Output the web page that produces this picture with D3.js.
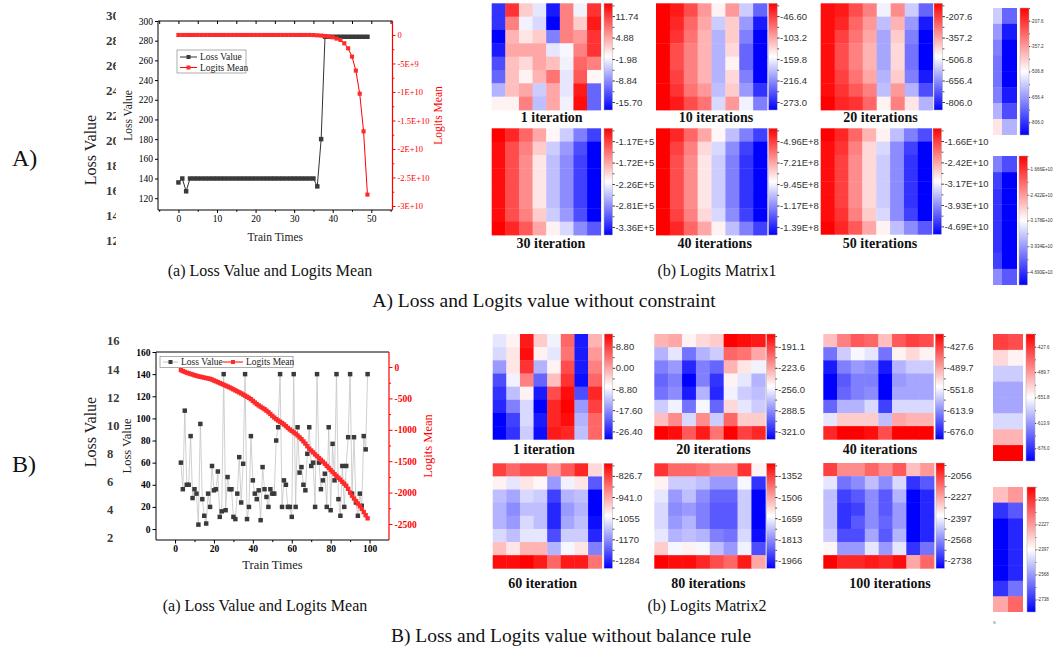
<!DOCTYPE html>
<html>
<head>
<meta charset="utf-8">
<script src="https://cdn.jsdelivr.net/npm/d3@7/dist/d3.min.js"></script>
<style>
  body { margin: 0; background: #fff; }
  svg { display: block; }
</style>
</head>
<body>
<svg id="fig" width="1056" height="655"></svg>
<script>
// ---------- A) without constraint : loss / logits mean per train step (step = index)
const lossA = [136, 140, 127,
  140, 140, 140, 140, 140, 140, 140, 140, 140, 140,
  140, 140, 140, 140, 140, 140, 140, 140, 140, 140,
  140, 140, 140, 140, 140, 140, 140, 140, 140, 140,
  140, 140, 140,
  132, 180,
  284, 284, 284, 284, 284, 284, 284, 284, 284, 284, 284, 284]
const logitsA = [0, 0, 0, 0, 0, 0, 0, 0, 0, 0,
  0, 0, 0, 0, 0, 0, 0, 0, 0, 0,
  0, 0, 0, 0, 0, 0, 0, 0, 0, 0,
  0, 0, 0, 0, 0,
  -2e7, -6e7, -1.1e8, -1.8e8, -2.9e8, -4.1e8, -6.4e8, -8.8e8, -1.46e9, -2.34e9,
  -3.8e9, -6.25e9, -1.03e10, -1.69e10, -2.8e10]
const trainTicksA = [0, 10, 20, 30, 40, 50]
const trainMinorA = [-5, 5, 15, 25, 35, 45, 55]
const lossTicksA = [120, 140, 160, 180, 200, 220, 240, 260, 280, 300]
const logitTicksA = [0, -5e9, -1e10, -1.5e10, -2e10, -2.5e10, -3e10]
const logitLabelsA = ["0", "-5E+9", "-1E+10", "-1.5E+10", "-2E+10", "-2.5E+10", "-3E+10"]
const logitMinorA = [-2.5e9, -7.5e9, -1.25e10, -1.75e10, -2.25e10, -2.75e10]
const ghostTicksA = [30, 28, 26, 24, 22, 20, 18, 16, 14, 12]

// ---------- B) without balance rule : first step is 3
const firstStepB = 3
const lossB = [60, 36, 107, 40, 40, 84, 28, 36, 32, 4,
  95, 27, 12, 5, 32, 20, 57, 35, 36, 52,
  11, 16, 140, 17, 47, 36, 36, 11, 9, 32,
  65, 24, 59, 140, 9, 20, 84, 44, 32, 27,
  35, 8, 56, 36, 29, 20, 36, 32, 32, 80,
  92, 140, 20, 44, 40, 20, 20, 11, 140, 20,
  92, 51, 56, 40, 35, 68, 92, 57, 60, 20,
  140, 60, 36, 44, 50, 20, 92, 17, 77, 44,
  140, 27, 12, 57, 20, 57, 83, 140, 32, 83,
  24, 12, 32, 21, 84, 72, 140]
const logitsB = [-50, -65, -78, -90, -100, -110, -120, -130, -140, -148,
  -155, -162, -170, -176, -182, -190, -200, -215, -228, -242,
  -255, -268, -282, -296, -310, -325, -340, -356, -372, -388,
  -404, -420, -438, -456, -474, -492, -512, -540, -565, -590,
  -612, -632, -652, -672, -695, -720, -748, -778, -805, -830,
  -852, -872, -892, -915, -942, -970, -995, -1018, -1040, -1062,
  -1090, -1120, -1150, -1185, -1220, -1262, -1300, -1330, -1360, -1392,
  -1420, -1450, -1478, -1508, -1540, -1575, -1605, -1640, -1672, -1705,
  -1735, -1765, -1795, -1828, -1858, -1890, -1940, -2000, -2050, -2095,
  -2135, -2175, -2215, -2260, -2310, -2360, -2410]
const trainTicksB = [0, 20, 40, 60, 80, 100]
const trainMinorB = [10, 30, 50, 70, 90]
const lossTicksB = [0, 20, 40, 60, 80, 100, 120, 140, 160]
const logitTicksB = [0, -500, -1000, -1500, -2000, -2500]
const logitMinorB = [-250, -750, -1250, -1750, -2250]
const ghostTicksB = [16, 14, 12, 10, 8, 6, 4, 2]

// ---------- logits matrices, read as colour level (-10 full blue .. 0 white .. 10 full red)
const matA1 = [
  [-8, 8, 2, -1, -9, 5, -0.5, 8],
  [-8, 5, -0.5, -1.5, -10, 5, 2, 9],
  [-10, 3, 1, 2, -5, 5, 4, 8],
  [-9, 3.5, 3.5, 3.5, -1, -0.3, 5, 8],
  [-7, 2.5, 1.5, 3.5, 2.5, -0.5, 6, 5],
  [-6, 2.5, 0.5, 3, 5.5, -1, 6.5, 0.3],
  [-3, 2.5, 3.5, -2, 3.5, -1, 9, -6],
  [0.5, 0.5, 5, -2.5, 3.5, -0.5, 9.5, -6]]
const matA10 = [
  [10, 9, 7, 4, 0.5, 4, -2, -6],
  [10, 8.5, 6, 3.5, -2, 2, -4, -9],
  [10, 8, 5.5, 3, -3, 2, -5, -10],
  [10, 7, 5, 3, -3, 1.5, -6, -10],
  [10, 7, 5, 3, -3, 0.5, -6, -10],
  [10, 7.5, 5, 3, -3, 1.5, -5, -10],
  [10, 8, 5.5, 4, -2.5, 2, -4, -8],
  [10, 9, 7, 5.5, -1.5, 4, -0.5, -5]]
const matA20 = [
  [9.5, 9, 7, 5, -0.5, 4.5, -2, -6],
  [9.5, 8.5, 6, 4, -2.5, 3, -4, -9],
  [9.5, 7.5, 5.5, 3.5, -3.5, 2, -5, -10],
  [9.5, 7, 5, 3, -3.5, 1.5, -5.5, -10],
  [9.5, 7, 5, 3, -3.5, 1.5, -5.5, -10],
  [9.5, 7.5, 5.5, 3.5, -3, 2, -5, -9],
  [9.5, 8, 6.5, 5, -2.5, 4, -3, -7],
  [10, 8.5, 8, 6, 0.5, 5, 1, -3]]
const matA30 = [
  [10, 8.5, 6, 3.5, 0.3, -2, -5, -7.5],
  [9.5, 7, 5, 2, -2, -4, -7, -10],
  [9.5, 7, 4.5, 1, -2.5, -4.5, -7.5, -10],
  [9.5, 7, 4.5, 1, -2.5, -4.5, -7.5, -10],
  [9.5, 7, 4.5, 1, -2.5, -4.5, -7.5, -10],
  [9.5, 7, 4.5, 1, -2.5, -4.5, -7.5, -10],
  [9.5, 7, 5, 2, -2, -4, -7, -10],
  [10, 8.5, 6.5, 3.5, 0.5, -1.5, -4.5, -6.5]]
const matA40 = [
  [10, 8.5, 6, 3.5, 0.3, -2.5, -5, -7.5],
  [10, 7.5, 5, 1.5, -1.5, -4.5, -7.5, -10],
  [10, 7, 4.5, 1, -2, -5, -8, -10],
  [10, 7, 4.5, 1, -2, -5, -8, -10],
  [10, 7, 4.5, 1, -2, -5, -8, -10],
  [10, 7, 4.5, 1, -2, -5, -8, -10],
  [10, 7.5, 5, 1.5, -1.5, -4.5, -7.5, -10],
  [10, 8.5, 6, 3.5, 0.5, -2.5, -5, -7.5]]
const matA50 = [
  [10, 8.5, 6, 3, 0.5, -2.5, -5, -7],
  [9.5, 8, 5, 1.5, -1.5, -4.5, -7.5, -10],
  [9.5, 7.5, 4.5, 1.5, -2, -4.5, -8, -10],
  [9.5, 7.5, 4.5, 1.5, -2, -4.5, -8, -10],
  [9.5, 7.5, 4.5, 1.5, -2, -4.5, -8, -10],
  [9.5, 7.5, 4.5, 1.5, -2, -4.5, -8, -10],
  [9.5, 8, 5, 2, -1.5, -4.5, -7.5, -10],
  [10, 8.5, 6.5, 3.5, 0.5, -2.5, -4.5, -6.5]]
const matB1 = [
  [-1, 0.5, 9, 2, -0.5, 6, -9, 3],
  [-1.5, 1, 9.5, 0.5, -1, 5.5, -9, 4],
  [-4, 1, 8, -3, 0.5, 7, -9, 5],
  [-7, -0.5, 5, -6, 2.5, 8, -9.5, 6],
  [-8, -2.5, 0.5, -9, 7, 9.5, -7, 8.5],
  [-8.5, -5, -1.5, -10, 8.5, 10, -4, 7.5],
  [-10, -7.5, -1.5, -9, 8.5, 9.5, -3, 6],
  [-10, -8, -2, -9.5, 9, 8.5, -2.5, 6]]
const matB20 = [
  [3, 3.5, 0.5, 1.5, 2, 10, 9.5, 9],
  [-3, -1, -5.5, -3, -2, 6, 5.5, 3.5],
  [-5, -4, -8.5, -5, -6, 3, 1, -0.5],
  [-6, -5, -10, -5, -8, 0.5, -1, -3],
  [-5.5, -4.5, -9, -3, -8.5, -0.5, -2, -2.5],
  [-2, -0.5, -5.5, -0.3, -6, 1.5, -1, -2],
  [2.5, 4.5, -1.5, 4.5, -2, 6, 2, 2],
  [10, 9.5, 6.5, 9, 5.5, 10, 7.5, 8.5]]
const matB40 = [
  [2.5, 5, 6.5, 6, 2.5, 6.5, 7.5, 7],
  [-5.5, -2, -0.3, -1, -5.5, 0.5, 1.5, 0.5],
  [-9, -5, -4, -4.5, -9, -3, -2, -2],
  [-10, -6.5, -5, -5, -10, -4, -3.5, -3.5],
  [-10, -6, -5, -4.5, -10, -3.5, -3.5, -3.5],
  [-6, -3, -3, -1.5, -7.5, -1.5, -1.5, -1.5],
  [-1, 2, 2, 2, -2.5, 3.5, 3, 3],
  [8.5, 10, 10, 9.5, 7, 10, 10, 10]]
const matB60 = [
  [7.5, 6, 7, 7, 4, 6.5, 8.5, 1.5],
  [0.5, -1, 1, 0.3, -4, -0.5, 1, -6.5],
  [-2.5, -3.5, -1.5, -2, -7.5, -3, -2.5, -10],
  [-3, -4.5, -2.5, -2.5, -8.5, -4, -3, -10],
  [-3, -4, -1.5, -2.5, -8.5, -3.5, -2.5, -9.5],
  [-1.5, -2.5, -1, -1, -7, -2, -2, -8.5],
  [2.5, 1, 3, 3, -3, -0.3, 1, -5],
  [9.5, 9.5, 10, 9, 6, 9, 9, 5.5]]
const matB80 = [
  [8, 6, 6, 5.5, 4.5, 4.5, 8, 0.5],
  [0.5, -2, -2, -2.5, -4, -4, -0.3, -8],
  [-1, -4, -2.5, -4.5, -6, -6, -2, -10],
  [-1.5, -4.5, -4, -5, -6.5, -6.5, -2, -10],
  [-1.5, -4, -3, -5, -6.5, -6.5, -2, -10],
  [-1, -3, -2.5, -3, -5, -5.5, -1.5, -9.5],
  [2, -0.3, 0.5, -0.3, -2.5, -4, -0.5, -7],
  [10, 9.5, 9.5, 8.5, 7, 6, 9, 3.5]]
const matB100 = [
  [7.5, 4.5, 4.5, 6, 4.5, 6.5, 2.5, 4],
  [-1, -5.5, -4.5, -2.5, -4.5, -1.5, -8, -6.5],
  [-2.5, -7.5, -6.5, -4.5, -6.5, -3, -10, -8.5],
  [-2.5, -8, -7.5, -4.5, -6.5, -4, -10, -8.5],
  [-2.5, -8, -6.5, -4.5, -6, -4, -10, -8.5],
  [-2, -7, -7, -3.5, -6.5, -3, -10, -8.5],
  [0.3, -4, -4, -1, -4, -1, -8, -5.5],
  [10, 8.5, 8.5, 9, 8.5, 9.5, 3.5, 6]]

// colour bar tick labels
const barA1 = ["11.74", "4.88", "-1.98", "-8.84", "-15.70"]
const barA10 = ["-46.60", "-103.2", "-159.8", "-216.4", "-273.0"]
const barA20 = ["-207.6", "-357.2", "-506.8", "-656.4", "-806.0"]
const barA30 = ["-1.17E+5", "-1.72E+5", "-2.26E+5", "-2.81E+5", "-3.36E+5"]
const barA40 = ["-4.96E+8", "-7.21E+8", "-9.45E+8", "-1.17E+8", "-1.39E+8"]
const barA50 = ["-1.66E+10", "-2.42E+10", "-3.17E+10", "-3.93E+10", "-4.69E+10"]
const barA50fine = ["-1.666E+10", "-2.422E+10", "-3.178E+10", "-3.934E+10", "-4.690E+10"]
const barB1 = ["8.80", "0.00", "-8.80", "-17.60", "-26.40"]
const barB20 = ["-191.1", "-223.6", "-256.0", "-288.5", "-321.0"]
const barB40 = ["-427.6", "-489.7", "-551.8", "-613.9", "-676.0"]
const barB60 = ["-826.7", "-941.0", "-1055", "-1170", "-1284"]
const barB80 = ["-1352", "-1506", "-1659", "-1813", "-1966"]
const barB100 = ["-2056", "-2227", "-2397", "-2568", "-2738"]

const serif = "'Liberation Serif','Times New Roman',serif"
const sans = "'Liberation Sans',Arial,sans-serif"
const red = "#ff0000"

const svg = d3.select("#fig")
svg.append("rect").attr("width", 1056).attr("height", 655).attr("fill", "#fff")

const color = d3.scaleLinear().domain([-10, 0, 10]).range(["#0000ff", "#ffffff", "#ff0000"])

const defs = svg.append("defs")
defs.append("linearGradient").attr("id", "cbar")
  .attr("x1", 0).attr("y1", 0).attr("x2", 0).attr("y2", 1)
  .selectAll("stop").data([10, 0, -10]).join("stop")
  .attr("offset", (d, i) => i / 2).attr("stop-color", d => color(d))

function styleAxis(sel, col, size, weight, font) {
  sel.select(".domain").remove()
  sel.attr("font-family", font || serif).attr("font-size", size).attr("font-weight", weight || "normal")
  sel.selectAll("line").attr("stroke", col)
  sel.selectAll("text").attr("fill", col)
}

// ---------- ghost axis of an earlier version of the chart
function ghost(ticks, y0, y1, x, fs) {
  const s = d3.scaleLinear().domain([ticks[ticks.length - 1], ticks[0]]).range([y1, y0])
  svg.append("g").selectAll("text").data(ticks).join("text")
    .attr("x", x).attr("y", d => s(d)).attr("dy", "0.35em")
    .attr("font-family", serif).attr("font-size", fs).attr("font-weight", "bold")
    .attr("fill", "#3a3a3a").text(d => d)
}
ghost(ghostTicksA, 15, 240, 106, 13)
svg.append("rect").attr("x", 116).attr("y", 0).attr("width", 300).attr("height", 250).attr("fill", "#fff")
ghost(ghostTicksB, 341, 538, 107, 12.5)

svg.append("text").attr("transform", "translate(96,150) rotate(-90)").attr("text-anchor", "middle")
  .attr("font-family", serif).attr("font-size", 16).attr("fill", "#222").text("Loss Value")
svg.append("text").attr("transform", "translate(96,432) rotate(-90)").attr("text-anchor", "middle")
  .attr("font-family", serif).attr("font-size", 16).attr("fill", "#222").text("Loss Value")

// ---------- dual axis line chart
function lineChart(o) {
  const g = svg.append("g")
  const x = d3.scaleLinear().domain(o.xDomain).range([o.left, o.right])
  const yL = d3.scaleLinear().domain(o.yDomain).range([o.bottom, o.top])
  const yR = d3.scaleLinear().domain(o.rDomain).range([o.bottom, o.top])

  g.append("g").attr("transform", `translate(0,${o.bottom})`)
    .call(d3.axisBottom(x).tickValues(o.xTicks).tickFormat(String).tickSize(o.tick).tickPadding(2))
    .call(styleAxis, "#000", o.fs, o.fw)
  g.append("g").attr("transform", `translate(0,${o.bottom})`)
    .call(d3.axisBottom(x).tickValues(o.xMinor).tickFormat("").tickSize(o.tick * 0.6))
    .call(styleAxis, "#000", o.fs)
  if (o.topTicks) {
    g.append("g").attr("transform", `translate(0,${o.top})`)
      .call(d3.axisTop(x).tickValues(o.xTicks.concat(o.xMinor)).tickFormat("").tickSize(-o.tick))
      .call(styleAxis, "#000", o.fs)
  }
  g.append("g").attr("transform", `translate(${o.left},0)`)
    .call(d3.axisLeft(yL).tickValues(o.yTicks).tickFormat(String).tickSize(o.tick).tickPadding(2))
    .call(styleAxis, "#000", o.fs, o.fw)
  g.append("g").attr("transform", `translate(${o.right},0)`)
    .call(d3.axisRight(yR).tickValues(o.rTicks).tickFormat(o.rFormat).tickSize(o.tick).tickPadding(2))
    .call(styleAxis, red, o.rfs, o.fw)
  g.append("g").attr("transform", `translate(${o.right},0)`)
    .call(d3.axisRight(yR).tickValues(o.rMinor).tickFormat("").tickSize(o.tick * 0.6))
    .call(styleAxis, red, o.rfs)

  g.append("path").attr("d", `M${o.right},${o.top}H${o.left}V${o.bottom}H${o.right}`)
    .attr("fill", "none").attr("stroke", "#000").attr("stroke-width", 1)
  g.append("line").attr("x1", o.right).attr("x2", o.right).attr("y1", o.top).attr("y2", o.bottom)
    .attr("stroke", red).attr("stroke-width", 1.2)

  const lossPts = o.loss.map((v, i) => [o.x0 + i, v])
  const logitPts = o.logits.map((v, i) => [o.x0 + i, v])

  g.append("path").datum(lossPts)
    .attr("d", d3.line().x(d => x(d[0])).y(d => yL(d[1])))
    .attr("fill", "none").attr("stroke", o.lossLine).attr("stroke-width", o.lossLineW)
  g.append("g").selectAll("path").data(lossPts).join("path")
    .attr("d", d3.symbol(d3.symbolSquare, o.msize))
    .attr("transform", d => `translate(${x(d[0])},${yL(d[1])})`).attr("fill", o.lossMark)
  g.append("path").datum(logitPts)
    .attr("d", d3.line().x(d => x(d[0])).y(d => yR(d[1])))
    .attr("fill", "none").attr("stroke", red).attr("stroke-width", 1)
  g.append("g").selectAll("path").data(logitPts).join("path")
    .attr("d", d3.symbol(d3.symbolSquare, o.rsize))
    .attr("transform", d => `translate(${x(d[0])},${yR(d[1])})`).attr("fill", "#ff2a2a")

  g.append("text").attr("x", (o.left + o.right) / 2).attr("y", o.xlabY).attr("text-anchor", "middle")
    .attr("font-family", serif).attr("font-size", o.labFs).attr("fill", "#222").text("Train Times")
  g.append("text").attr("transform", `translate(${o.ylabX},${(o.top + o.bottom) / 2}) rotate(-90)`)
    .attr("text-anchor", "middle").attr("font-family", serif).attr("font-size", o.labFs)
    .attr("fill", "#222").text("Loss Value")
  g.append("text").attr("transform", `translate(${o.rlabX},${(o.top + o.bottom) / 2}) rotate(-90)`)
    .attr("text-anchor", "middle").attr("font-family", serif).attr("font-size", o.labFs)
    .attr("fill", red).text("Logits Mean")

  // legend
  const L = o.legend
  const lg = g.append("g").attr("font-family", serif).attr("font-size", L.fs)
  lg.append("rect").attr("x", L.x).attr("y", L.y).attr("width", L.w).attr("height", L.h)
    .attr("fill", "#fff").attr("stroke", "#777").attr("stroke-width", 0.6)
  L.items.forEach(it => {
    lg.append("line").attr("x1", it.x).attr("x2", it.x + it.len).attr("y1", it.y).attr("y2", it.y)
      .attr("stroke", it.line).attr("stroke-width", 1)
    lg.append("path").attr("d", d3.symbol(d3.symbolSquare, it.ms))
      .attr("transform", `translate(${it.x + it.len / 2},${it.y})`).attr("fill", it.mark)
    lg.append("text").attr("x", it.x + it.len + 3).attr("y", it.y).attr("dy", "0.35em")
      .attr("fill", "#222").text(it.text)
  })
}

lineChart({
  left: 158, right: 392.5, top: 21, bottom: 210,
  xDomain: [-5.3, 55.5], yDomain: [108, 300], rDomain: [-3.07e10, 2.45e9],
  xTicks: trainTicksA, xMinor: trainMinorA, yTicks: lossTicksA,
  rTicks: logitTicksA, rMinor: logitMinorA, rFormat: (d, i) => logitLabelsA[i],
  tick: 3, fs: 9.5, rfs: 8.5, fw: "normal", topTicks: true,
  x0: 0, loss: lossA, logits: logitsA,
  lossLine: "#333", lossLineW: 1, lossMark: "#3a3a3a", msize: 20, rsize: 17,
  xlabY: 241, ylabX: 132, rlabX: 442, labFs: 11.5,
  legend: { x: 177, y: 50, w: 69, h: 23, fs: 9.5, items: [
    { x: 180, y: 57, len: 17, line: "#333", mark: "#3a3a3a", ms: 16, text: "Loss Value" },
    { x: 180, y: 67.5, len: 17, line: red, mark: "#ff2a2a", ms: 16, text: "Logits Mean" }] }
})

lineChart({
  left: 156, right: 389, top: 352, bottom: 540,
  xDomain: [-9.8, 110], yDomain: [-9.9, 160], rDomain: [-2755, 239],
  xTicks: trainTicksB, xMinor: trainMinorB, yTicks: lossTicksB,
  rTicks: logitTicksB, rMinor: logitMinorB, rFormat: String,
  tick: 3.5, fs: 9.5, rfs: 9.5, fw: "bold", topTicks: false,
  x0: firstStepB, loss: lossB, logits: logitsB,
  lossLine: "#c4c4c4", lossLineW: 0.8, lossMark: "#3a3a3a", msize: 20, rsize: 19,
  xlabY: 569, ylabX: 131, rlabX: 432, labFs: 12.5,
  legend: { x: 160, y: 356.5, w: 133, h: 11, fs: 9.5, items: [
    { x: 163, y: 362, len: 15, line: "#c4c4c4", mark: "#3a3a3a", ms: 16, text: "Loss Value" },
    { x: 223, y: 362, len: 20, line: red, mark: "#ff2a2a", ms: 16, text: "Logits Mean" }] }
})

// ---------- heat maps with colour bars
function colorbar(bx, by, bw, bh, labels, fs, lo, hi) {
  const g = svg.append("g")
  g.append("rect").attr("x", bx).attr("y", by).attr("width", bw).attr("height", bh)
    .attr("fill", "url(#cbar)").attr("stroke", "#aaa").attr("stroke-width", 0.5)
  const s = d3.scaleLinear().domain([0, labels.length - 1]).range([by + lo * bh, by + hi * bh])
  g.append("g").attr("transform", `translate(${bx + bw},0)`)
    .call(d3.axisRight(s).tickValues(d3.range(labels.length)).tickFormat(i => labels[i])
      .tickSize(fs * 0.25).tickPadding(0.5))
    .call(styleAxis, "#333", fs, "normal", sans)
  g.append("g").attr("transform", `translate(${bx + bw},0)`)
    .call(d3.axisRight(s).tickValues([-0.5, 0.5, 1.5, 2.5, 3.5]).tickFormat("").tickSize(fs * 0.2))
    .call(styleAxis, "#555", fs, "normal", sans)
}

function cells(data, cols, x0, colW, y, h, clip) {
  const g = svg.append("g")
  const x = d3.scaleBand().domain(cols).range([x0, x0 + colW * cols.length])
  const yb = d3.scaleBand().domain(d3.range(data.length)).range([y, y + h])
  if (clip) {
    const id = "clip" + Math.round(clip[0] + y)
    defs.append("clipPath").attr("id", id).append("rect")
      .attr("x", clip[0]).attr("y", y).attr("width", clip[1] - clip[0]).attr("height", h)
    g.attr("clip-path", `url(#${id})`)
  }
  const flat = data.flatMap((row, i) => cols.map(j => ({ i, j, v: row[j] })))
  g.selectAll("rect").data(flat).join("rect")
    .attr("x", d => x(d.j)).attr("y", d => yb(d.i))
    .attr("width", x.bandwidth() + 0.4).attr("height", yb.bandwidth() + 0.4)
    .attr("fill", d => color(d.v))
}

const panels = [
  { data: matA1, bar: barA1, x: 491.7, y: 3.3, w: 109, h: 106.7, bx: 604, label: "1 iteration", lx: 551.7, ly: 117 },
  { data: matA10, bar: barA10, x: 656, y: 3.3, w: 111, h: 106.7, bx: 768.7, label: "10 iterations", lx: 716, ly: 117 },
  { data: matA20, bar: barA20, x: 820.7, y: 3.3, w: 112, h: 106.7, bx: 934, label: "20 iterations", lx: 880.5, ly: 117 },
  { data: matA30, bar: barA30, x: 491.7, y: 128.3, w: 109, h: 106.7, bx: 604, label: "30 iteration", lx: 551, ly: 243 },
  { data: matA40, bar: barA40, x: 656, y: 128.3, w: 111, h: 106.7, bx: 768.7, label: "40 iterations", lx: 714.7, ly: 243 },
  { data: matA50, bar: barA50, x: 820.7, y: 128.3, w: 111, h: 106, bx: 933, label: "50 iterations", lx: 880, ly: 243 },
  { data: matB1, bar: barB1, x: 492.7, y: 334, w: 109, h: 105.3, bx: 604.3, label: "1 iteration", lx: 544, ly: 449 },
  { data: matB20, bar: barB20, x: 654.3, y: 334, w: 111, h: 105.3, bx: 766.7, label: "20 iterations", lx: 713.5, ly: 449 },
  { data: matB40, bar: barB40, x: 823.3, y: 334, w: 110, h: 105.3, bx: 935.3, label: "40 iterations", lx: 880, ly: 449 },
  { data: matB60, bar: barB60, x: 492.7, y: 463.3, w: 109, h: 105, bx: 604, label: "60 iteration", lx: 542.7, ly: 583 },
  { data: matB80, bar: barB80, x: 654.3, y: 463.3, w: 111, h: 105, bx: 766.7, label: "80 iterations", lx: 708.3, ly: 583 },
  { data: matB100, bar: barB100, x: 823.3, y: 463, w: 110.7, h: 105.3, bx: 936, label: "100 iterations", lx: 890, ly: 583 }
]

panels.forEach(p => {
  cells(p.data, d3.range(8), p.x, p.w / 8, p.y, p.h)
  colorbar(p.bx, p.y, 8.5, p.h, p.bar, 9.5, 0.12, 0.925)
  svg.append("text").attr("x", p.lx).attr("y", p.ly).attr("dy", "0.35em").attr("text-anchor", "middle")
    .attr("font-family", serif).attr("font-size", 14).attr("font-weight", "bold").attr("fill", "#111")
    .text(p.label)
})

// enlarged crops of the last two columns at the right edge
const strips = [
  { data: matA20, bar: barA20, colStart: 987, clip: [993, 1017], y: 8, h: 127, bx: 1020, bw: 9 },
  { data: matA50, bar: barA50fine, colStart: 987, clip: [993, 1017], y: 156, h: 129, bx: 1019, bw: 8.5 },
  { data: matB40, bar: barB40, colStart: 993, clip: [993, 1023], y: 334, h: 127, bx: 1026, bw: 9 },
  { data: matB100, bar: barB100, colStart: 993, clip: [993, 1023], y: 487, h: 125, bx: 1027, bw: 8.5 }
]
strips.forEach(s => {
  cells(s.data, [6, 7], s.colStart, 15, s.y, s.h, s.clip)
  colorbar(s.bx, s.y, s.bw, s.h, s.bar, 4.5, 0.1, 0.9)
})
svg.append("text").attr("x", 993).attr("y", 624).attr("font-family", serif).attr("font-size", 7)
  .attr("fill", "#777").text("s")

// ---------- captions
const caps = [
  { t: "(a) Loss Value and Logits Mean", x: 270, y: 270, fs: 16 },
  { t: "(b) Logits Matrix1", x: 717, y: 270, fs: 16 },
  { t: "A) Loss and Logits value without constraint", x: 544, y: 300, fs: 19.5 },
  { t: "(a) Loss Value and Logits Mean", x: 265, y: 605, fs: 16 },
  { t: "(b) Logits Matrix2", x: 707, y: 605, fs: 16 },
  { t: "B) Loss and Logits value without balance rule", x: 571, y: 635, fs: 19.5 }
]
svg.append("g").selectAll("text").data(caps).join("text")
  .attr("x", d => d.x).attr("y", d => d.y).attr("dy", "0.35em").attr("text-anchor", "middle")
  .attr("font-family", serif).attr("font-size", d => d.fs).attr("fill", "#111").text(d => d.t)

svg.append("text").attr("x", 12).attr("y", 158).attr("dy", "0.35em")
  .attr("font-family", serif).attr("font-size", 24).attr("fill", "#111").text("A)")
svg.append("text").attr("x", 12).attr("y", 464).attr("dy", "0.35em")
  .attr("font-family", serif).attr("font-size", 24).attr("fill", "#111").text("B)")
</script>
</body>
</html>
